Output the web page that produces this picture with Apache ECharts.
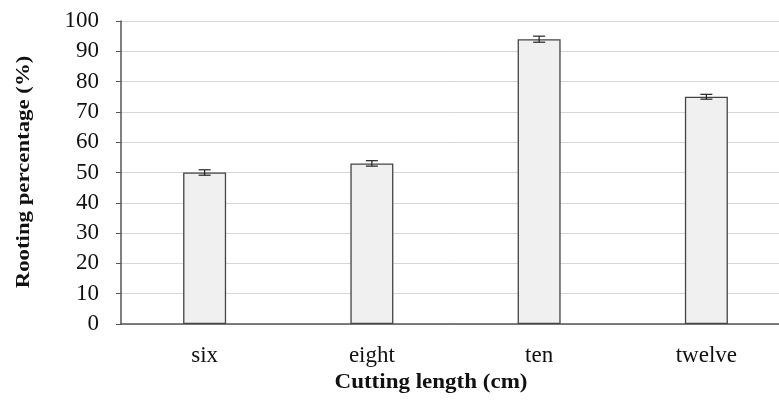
<!DOCTYPE html>
<html>
<head>
<meta charset="utf-8">
<script src="https://cdn.jsdelivr.net/npm/echarts@6/dist/echarts.min.js"></script>
<style>
  html, body { margin: 0; padding: 0; background: #fff; }
  #chart { width: 779px; height: 407px; }
</style>
</head>
<body>
<div id="chart"></div>
<script>
  const categories = ["six", "eight", "ten", "twelve"];
  const rooting = [50, 53, 94, 75];
  const errors = [0.9, 0.9, 1, 0.8];
  const yTicks = { min: 0, max: 100, step: 10 };

  const serif = "'Liberation Serif', 'Times New Roman', serif";

  const errorData = rooting.map((v, i) => [i, v - errors[i], v + errors[i]]);

  const chart = echarts.init(document.getElementById("chart"), null, { renderer: "canvas" });
  chart.setOption({
    animation: false,
    grid: { left: 121, top: 21, height: 303, width: 669, outerBoundsMode: "none" },
    xAxis: {
      type: "category",
      data: categories,
      axisLine: { lineStyle: { color: "#555", width: 1.5 } },
      axisTick: { show: false },
      axisLabel: { color: "#111", fontFamily: serif, fontSize: 23, margin: 20 }
    },
    yAxis: {
      type: "value",
      min: yTicks.min,
      max: yTicks.max,
      interval: yTicks.step,
      axisLine: { show: true, lineStyle: { color: "#555", width: 1.5 } },
      axisTick: { show: true, length: 5, lineStyle: { color: "#555" } },
      axisLabel: { color: "#111", fontFamily: serif, fontSize: 23, margin: 22 },
      splitLine: { lineStyle: { color: "#d6d6d6", width: 1 } }
    },
    series: [
      {
        type: "bar",
        data: rooting,
        barWidth: 43,
        itemStyle: { color: "#f0f0f0", borderColor: "#444", borderWidth: 1.3 }
      },
      {
        type: "custom",
        data: errorData,
        z: 5,
        renderItem: (params, api) => {
          const lo = api.coord([api.value(0), api.value(1)]);
          const hi = api.coord([api.value(0), api.value(2)]);
          const half = 6;
          const style = { stroke: "#222", lineWidth: 1.2 };
          return {
            type: "group",
            children: [
              { type: "line", shape: { x1: lo[0], y1: lo[1], x2: hi[0], y2: hi[1] }, style },
              { type: "line", shape: { x1: hi[0] - half, y1: hi[1], x2: hi[0] + half, y2: hi[1] }, style },
              { type: "line", shape: { x1: lo[0] - half, y1: lo[1], x2: lo[0] + half, y2: lo[1] }, style }
            ]
          };
        }
      }
    ],
    graphic: [
      {
        type: "text",
        x: 24,
        y: 172,
        rotation: Math.PI / 2,
        scaleX: 1.2,
        style: {
          text: "Rooting percentage (%)",
          font: "bold 19px " + serif,
          fill: "#111",
          align: "center",
          verticalAlign: "middle"
        }
      },
      {
        type: "text",
        x: 431,
        y: 383,
        scaleX: 1.15,
        style: {
          text: "Cutting length (cm)",
          font: "bold 20px " + serif,
          fill: "#111",
          align: "center",
          verticalAlign: "middle"
        }
      }
    ]
  });
</script>
</body>
</html>
